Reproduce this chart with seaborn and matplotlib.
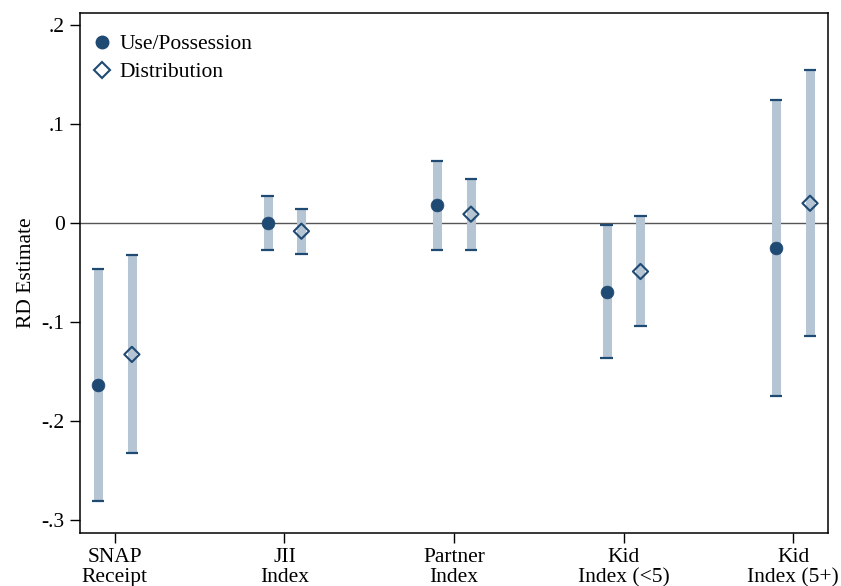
import numpy as np
import pandas as pd
import matplotlib
matplotlib.use("Agg")
import matplotlib.pyplot as plt
import seaborn as sns
from matplotlib.lines import Line2D

categories = ["SNAP\nReceipt", "JII\nIndex", "Partner\nIndex", "Kid\nIndex (<5)", "Kid\nIndex (5+)"]
use_est = [-0.1636, 0.0, 0.0177, -0.0697, -0.0256]
use_lo = [-0.2805, -0.0275, -0.0275, -0.1360, -0.1750]
use_hi = [-0.0468, 0.0268, 0.0630, -0.0018, 0.1240]
dist_est = [-0.1327, -0.0083, 0.0089, -0.0490, 0.0199]
dist_lo = [-0.2323, -0.0311, -0.0268, -0.1040, -0.1138]
dist_hi = [-0.0323, 0.0146, 0.0449, 0.0066, 0.1545]
series = ["Use/Possession", "Distribution"]
yticks = [0.2, 0.1, 0.0, -0.1, -0.2, -0.3]
ytick_labels = [".2", ".1", "0", "-.1", "-.2", "-.3"]

sns.set_theme(style="white")
plt.rcParams['font.family'] = ['Liberation Serif', 'DejaVu Serif']
plt.rcParams['text.color'] = 'black'
plt.rcParams['axes.labelcolor'] = 'black'
plt.rcParams['xtick.color'] = 'black'
plt.rcParams['ytick.color'] = 'black'

navy = "#1f4a73"
barc = "#b5c5d3"
fs = 15.5

pos = np.arange(1, len(categories) + 1)
offs = {series[0]: -0.1, series[1]: 0.1}
rows = []
for i, c in enumerate(categories):
    rows.append(dict(series=series[0], x=pos[i] + offs[series[0]], est=use_est[i], lo=use_lo[i], hi=use_hi[i]))
    rows.append(dict(series=series[1], x=pos[i] + offs[series[1]], est=dist_est[i], lo=dist_lo[i], hi=dist_hi[i]))
df = pd.DataFrame(rows)

fig = plt.figure(figsize=(8.41, 5.86), dpi=100)
ax = fig.add_axes([80/841, 1-533/586, (828-80)/841, (533-13)/586])

ax.axhline(0, color="#555555", lw=1.0, zorder=1)
ax.vlines(df["x"], df["lo"], df["hi"], color=barc, lw=6.5, zorder=2)
for col in ["lo", "hi"]:
    ax.hlines(df[col], df["x"] - 0.036, df["x"] + 0.036, color=navy, lw=1.6, zorder=3)

sub_u = df[df["series"] == series[0]]
sub_d = df[df["series"] == series[1]]
sns.scatterplot(data=sub_u, x="x", y="est", ax=ax, marker="o", s=85, color=navy,
                edgecolor=navy, linewidth=0.5, zorder=4, legend=False)
sns.scatterplot(data=sub_d, x="x", y="est", ax=ax, marker="D", s=60, facecolor="none",
                edgecolor=navy, linewidth=1.5, zorder=4, legend=False)

ax.set_xlim(0.794, 5.206)
ax.set_ylim(-0.313, 0.212)
ax.set_xticks(pos)
ax.set_xticklabels(categories, fontsize=fs, linespacing=1.05)
ax.set_yticks(yticks)
ax.set_yticklabels(ytick_labels, fontsize=fs)
ax.set_xlabel("")
ax.set_ylabel("RD Estimate", fontsize=fs, labelpad=4)
ax.tick_params(axis="both", direction="out", length=7, width=1.0, color="black",
               labelcolor="black", left=True, bottom=True, pad=4)
for sp in ax.spines.values():
    sp.set_visible(True)
    sp.set_color("black")
    sp.set_linewidth(1.1)

handles = [
    Line2D([], [], marker="o", linestyle="none", color=navy, markersize=9),
    Line2D([], [], marker="D", linestyle="none", markerfacecolor="none",
           markeredgecolor=navy, markeredgewidth=1.5, markersize=8),
]
leg = ax.legend(handles, series, loc="upper left", frameon=False, fontsize=fs,
                handlelength=0.8, handletextpad=0.4, borderaxespad=0.4, labelspacing=0.35,
                bbox_to_anchor=(-0.005, 0.992))
for t in leg.get_texts():
    t.set_color("black")

fig.savefig("out.png", dpi=100)
